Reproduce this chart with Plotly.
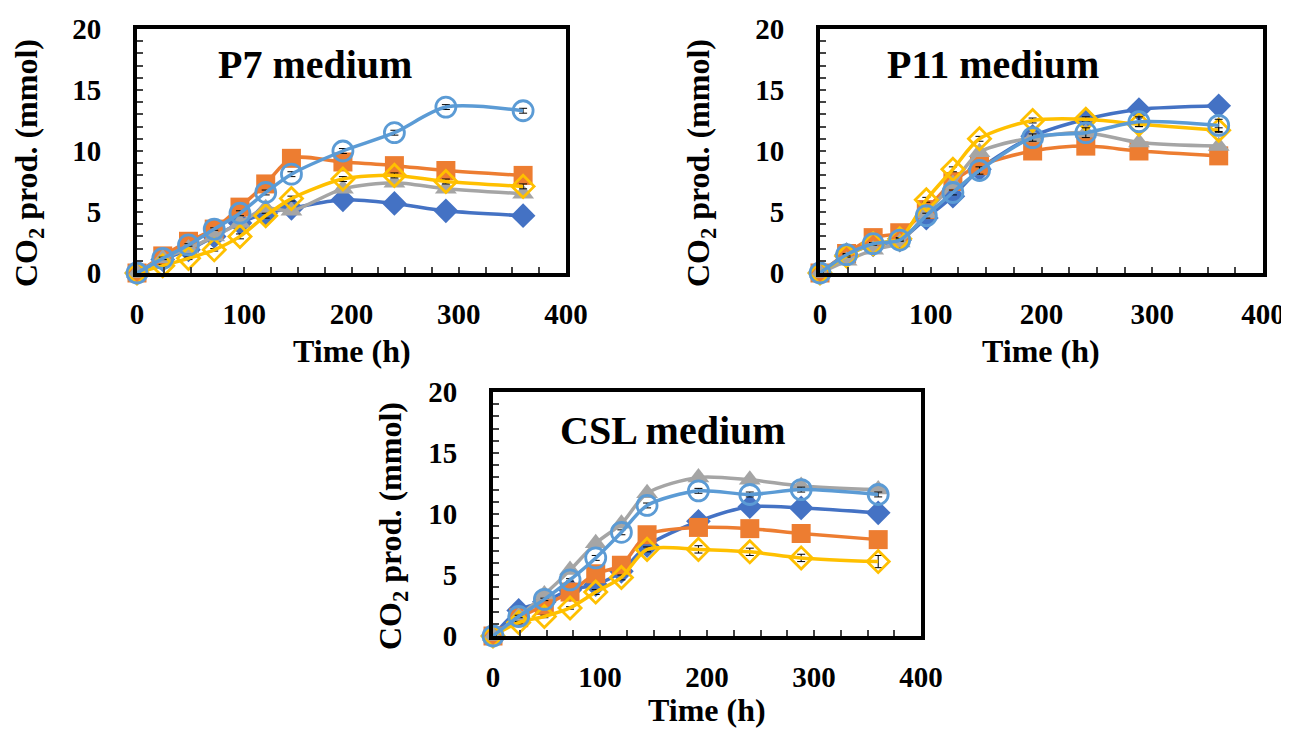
import plotly.graph_objects as go

time_h = [0, 24, 48, 72, 96, 120, 144, 192, 240, 288, 360]

# P7 medium
p7_blue = [0, 1.1, 1.9, 3.0, 4.1, 4.9, 5.3, 6.0, 5.7, 5.1, 4.7]
p7_orange = [0, 1.4, 2.6, 3.6, 5.4, 7.3, 9.4, 9.1, 8.8, 8.4, 8.0]
p7_gray = [0, 1.2, 2.0, 3.0, 4.1, 5.3, 5.1, 6.9, 7.4, 6.9, 6.5]
p7_yellow = [0, 0.6, 1.2, 1.9, 3.0, 4.7, 6.1, 7.7, 8.0, 7.5, 7.1]
p7_lblue = [0, 1.2, 2.3, 3.6, 4.9, 6.6, 8.1, 10.0, 11.5, 13.6, 13.3]

# P11 medium
p11_blue = [0, 1.5, 2.3, 2.7, 4.5, 6.3, 8.5, 11.2, 12.6, 13.4, 13.7]
p11_orange = [0, 1.6, 2.9, 3.3, 5.2, 7.5, 8.8, 10.0, 10.4, 10.0, 9.6]
p11_gray = [0, 1.0, 1.9, 2.5, 4.9, 7.3, 9.9, 11.1, 11.5, 10.7, 10.4]
p11_yellow = [0, 1.4, 2.4, 2.8, 6.0, 8.5, 11.0, 12.5, 12.6, 12.2, 11.7]
p11_lblue = [0, 1.5, 2.4, 2.7, 4.7, 6.6, 8.4, 11.1, 11.5, 12.4, 12.1]

# CSL medium
csl_blue = [0, 2.1, 2.8, 3.8, 4.2, 5.3, 7.4, 9.4, 10.6, 10.5, 10.1]
csl_orange = [0, 1.5, 2.5, 3.6, 5.1, 5.8, 8.3, 8.9, 8.8, 8.4, 7.9]
csl_gray = [0, 1.6, 3.4, 5.4, 7.6, 9.2, 11.7, 13.0, 12.8, 12.3, 12.0]
csl_yellow = [0, 1.1, 1.6, 2.3, 3.6, 4.8, 7.1, 7.1, 6.9, 6.4, 6.1]
csl_lblue = [0, 1.6, 3.0, 4.6, 6.4, 8.5, 10.7, 11.9, 11.6, 12.0, 11.6]

# error bars (estimated)
err_small = [0, 0.1, 0.1, 0.1, 0.2, 0.2, 0.2, 0.2, 0.2, 0.2, 0.2]
p11_blue_err = [0, 0.1, 0.1, 0.1, 0.2, 0.2, 0.3, 0.4, 0.6, 0.6, 0.6]
p11_lblue_err = [0, 0.1, 0.1, 0.1, 0.2, 0.2, 0.3, 0.3, 0.4, 0.4, 0.5]
csl_yellow_err = [0, 0.1, 0.1, 0.1, 0.2, 0.2, 0.2, 0.3, 0.3, 0.3, 0.5]

panel_titles = ["P7 medium", "P11 medium", "CSL medium"]
x_title = "Time (h)"
y_title = "CO<sub>2</sub> prod. (mmol)"
y_ticks = [0, 5, 10, 15, 20]
x_ticks = [0, 100, 200, 300, 400]

# page body has an 8px margin: figure is drawn 8px in from the window corner
OFF = 8
W, H = 1289 - OFF, 729 - OFF


def fx(px):
    return (px - OFF) / W


def fy(py):
    return 1 - (py - OFF) / H


# plot area boxes in window pixels: (left, right, top, bottom)
boxes = [(137, 566, 29, 273), (820, 1263, 29, 273), (493, 921, 392, 636)]
title_pos = [(315, 65), (993, 65), (673, 430)]
xtitle_pos = [(352, 351), (1041, 351), (707, 710)]
ytitle_pos = [(28, 163), (700, 163), (392, 526)]

FONT = "Liberation Serif"
styles = [
    dict(symbol="diamond", color="#4472C4", size=19, open=False),
    dict(symbol="square", color="#ED7D31", size=19, open=False),
    dict(symbol="triangle-up", color="#A5A5A5", size=19, open=False),
    dict(symbol="diamond-open", color="#FFC000", size=17, open=True),
    dict(symbol="circle-open", color="#5B9BD5", size=20, open=True),
]

panels = [
    [(p7_blue, err_small), (p7_orange, err_small), (p7_gray, err_small),
     (p7_yellow, err_small), (p7_lblue, err_small)],
    [(p11_blue, p11_blue_err), (p11_orange, err_small), (p11_gray, err_small),
     (p11_yellow, err_small), (p11_lblue, p11_lblue_err)],
    [(csl_blue, err_small), (csl_orange, err_small), (csl_gray, err_small),
     (csl_yellow, csl_yellow_err), (csl_lblue, err_small)],
]

fig = go.Figure()
layout = dict(
    width=W, height=H,
    margin=dict(l=0, r=0, t=0, b=0),
    paper_bgcolor="white", plot_bgcolor="white",
    showlegend=False,
    font=dict(family=FONT, color="black"),
)

for i, (series, box) in enumerate(zip(panels, boxes)):
    ax = "" if i == 0 else str(i + 1)
    xref, yref = "x" + ax, "y" + ax
    for (vals, errs), st in zip(series, styles):
        marker = dict(symbol=st["symbol"], size=st["size"], color=st["color"])
        if st["open"]:
            marker["line"] = dict(color=st["color"], width=2.8)
        fig.add_trace(go.Scatter(
            x=time_h, y=vals, mode="lines+markers",
            line=dict(color=st["color"], width=3.5, shape="spline", smoothing=0.8),
            marker=marker,
            error_y=dict(type="data", array=errs, visible=True,
                         color="black", thickness=1, width=4),
            xaxis=xref, yaxis=yref, cliponaxis=False,
        ))
    l, r, t, b = box
    layout["xaxis" + ax] = dict(
        domain=[fx(l), fx(r)], range=[0, 400], anchor=yref, automargin=False,
        tickvals=x_ticks, ticks="inside", ticklen=6, tickwidth=1.5,
        minor=dict(dtick=25, ticks="inside", ticklen=6, tickwidth=1.5, tick0=0),
        showline=True, linewidth=4, linecolor="black", mirror=True,
        showgrid=False, zeroline=False, ticklabeloverflow="allow",
        tickfont=dict(family=FONT, size=29, weight="bold"),
        ticklabelstandoff=12,
    )
    layout["yaxis" + ax] = dict(
        domain=[fy(b), fy(t)], range=[0, 20], anchor=xref, automargin=False,
        tickvals=y_ticks, ticks="inside", ticklen=6, tickwidth=1.5,
        minor=dict(dtick=1, ticks="inside", ticklen=6, tickwidth=1.5, tick0=0),
        showline=True, linewidth=4, linecolor="black", mirror=True,
        showgrid=False, zeroline=False, ticklabeloverflow="allow",
        tickfont=dict(family=FONT, size=29, weight="bold"),
        ticklabelstandoff=26,
    )

annotations = []
for txt, (px, py) in zip(panel_titles, title_pos):
    annotations.append(dict(
        text=txt, x=fx(px), y=fy(py), xref="paper", yref="paper",
        showarrow=False, xanchor="center", yanchor="middle",
        font=dict(family=FONT, size=40, weight="bold", color="black"),
    ))
for (px, py) in xtitle_pos:
    annotations.append(dict(
        text=x_title, x=fx(px), y=fy(py), xref="paper", yref="paper",
        showarrow=False, xanchor="center", yanchor="middle",
        font=dict(family=FONT, size=32, weight="bold", color="black"),
    ))
for (px, py) in ytitle_pos:
    annotations.append(dict(
        text=y_title, x=fx(px), y=fy(py), xref="paper", yref="paper",
        showarrow=False, xanchor="center", yanchor="middle", textangle=-90,
        font=dict(family=FONT, size=32, weight="bold", color="black"),
    ))
layout["annotations"] = annotations

fig.update_layout(**layout)
fig.write_html("out.html")
